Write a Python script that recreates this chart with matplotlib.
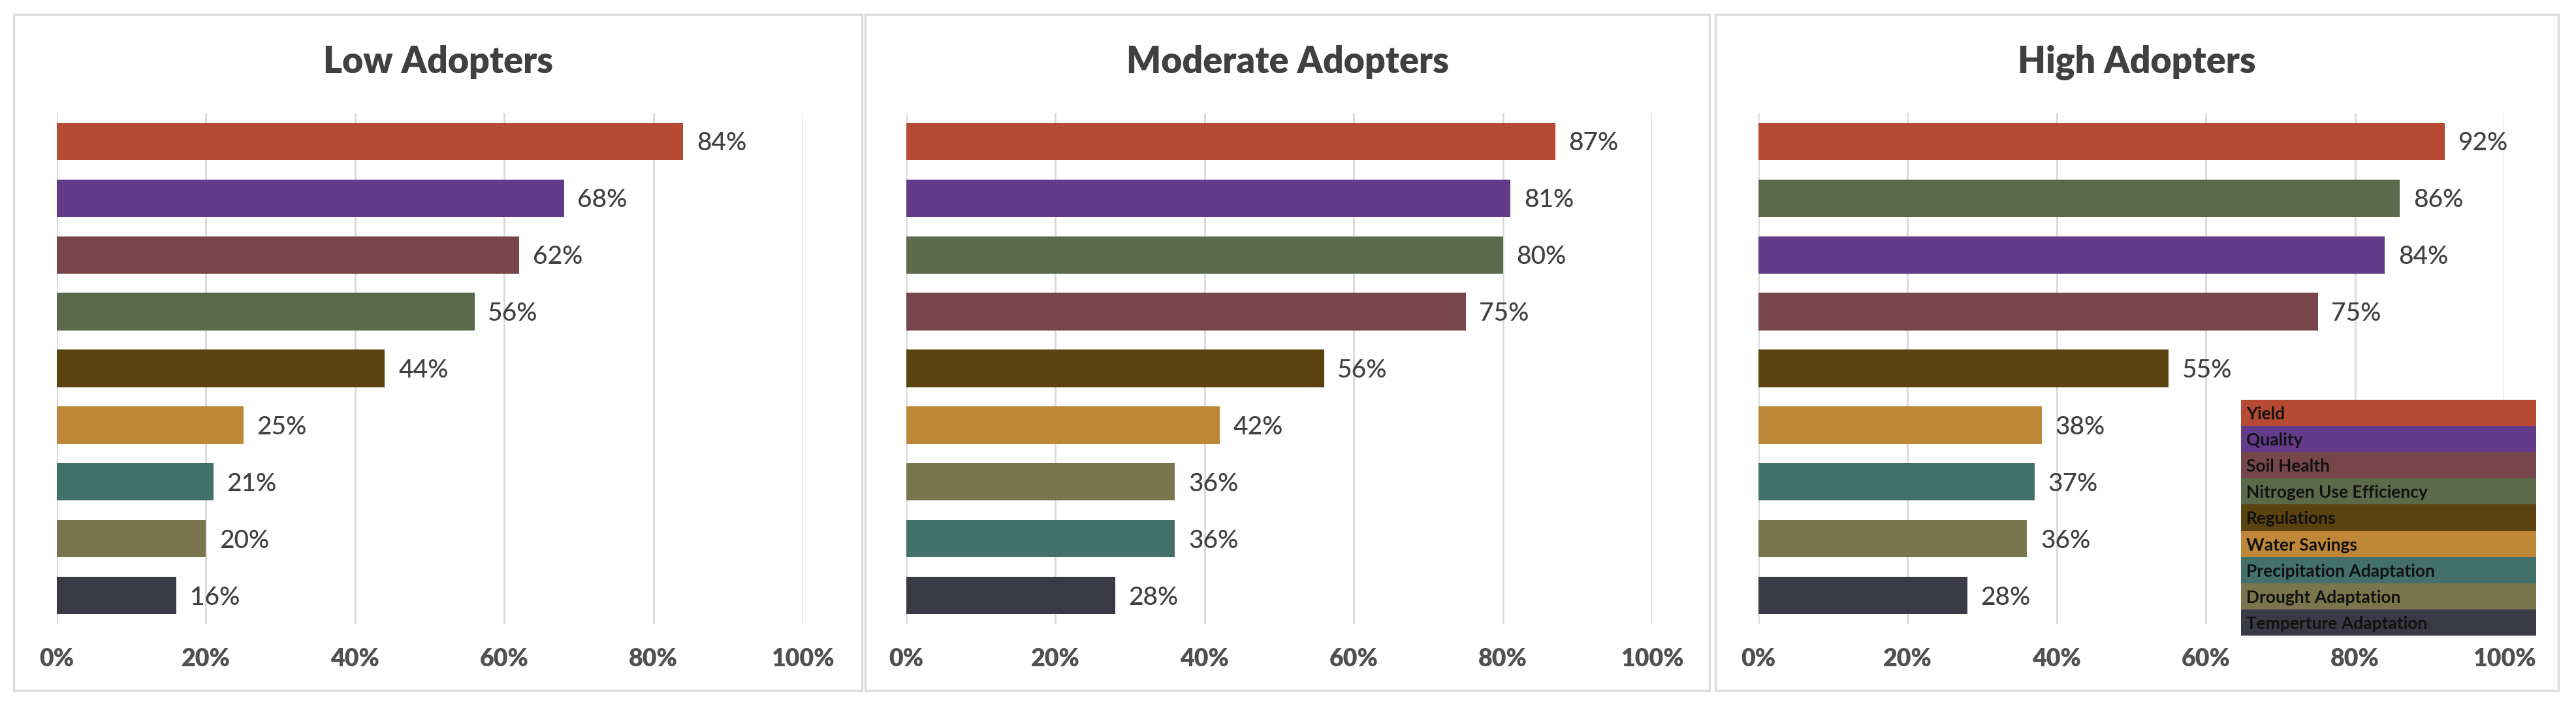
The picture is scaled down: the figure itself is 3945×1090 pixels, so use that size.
import matplotlib.pyplot as plt
from matplotlib.patches import Rectangle

# categories and colours (legend order)
categories = ["Yield", "Quality", "Soil Health", "Nitrogen Use Efficiency", "Regulations",
              "Water Savings", "Precipitation Adaptation", "Drought Adaptation",
              "Temperture Adaptation"]
colors = ["#B64A32", "#643A8B", "#76464A", "#5C6A4C", "#5B4310",
          "#BE8838", "#43706A", "#7A754D", "#3A3946"]

titles = ["Low Adopters", "Moderate Adopters", "High Adopters"]

low_order = ["Yield", "Quality", "Soil Health", "Nitrogen Use Efficiency", "Regulations",
             "Water Savings", "Precipitation Adaptation", "Drought Adaptation",
             "Temperture Adaptation"]
low_values = [84, 68, 62, 56, 44, 25, 21, 20, 16]

moderate_order = ["Yield", "Quality", "Nitrogen Use Efficiency", "Soil Health", "Regulations",
                  "Water Savings", "Drought Adaptation", "Precipitation Adaptation",
                  "Temperture Adaptation"]
moderate_values = [87, 81, 80, 75, 56, 42, 36, 36, 28]

high_order = ["Yield", "Nitrogen Use Efficiency", "Quality", "Soil Health", "Regulations",
              "Water Savings", "Precipitation Adaptation", "Drought Adaptation",
              "Temperture Adaptation"]
high_values = [92, 86, 84, 75, 55, 38, 37, 36, 28]

xticks = [0, 20, 40, 60, 80, 100]

W, H = 3945, 1090
plt.rcParams['font.family'] = ['Lato', 'DejaVu Sans']
fig = plt.figure(figsize=(W / 100, H / 100), dpi=100)

def fx(x):
    return x / W

def fy(y):
    return 1 - y / H

color_of = dict(zip(categories, colors))
panels = [(low_order, low_values), (moderate_order, moderate_values), (high_order, high_values)]
axes_left = [87, 1388, 2693]
axes_w = 1142
panel_box = [(21, 1320), (1325, 2618), (2627, 3918)]

for i, (order, vals) in enumerate(panels):
    # panel frame
    x0, x1 = panel_box[i]
    fig.add_artist(Rectangle((fx(x0), fy(1057)), fx(x1 - x0), (1057 - 22) / H,
                             transform=fig.transFigure, fill=False,
                             edgecolor='#DCDCDC', linewidth=2.5, zorder=0))
    fig.text(fx((x0 + x1) / 2), fy(112), titles[i], ha='center', va='baseline',
             fontsize=40, fontweight='heavy', color='#404040')

    ax = fig.add_axes([fx(axes_left[i]), fy(955), fx(axes_w), 782 / H])
    ypos = range(len(vals))
    ax.barh(ypos, vals, height=0.66, color=[color_of[c] for c in order], zorder=3)
    for y, v in zip(ypos, vals):
        ax.annotate(f"{v}%", (v, y), xytext=(15, 0), textcoords='offset points',
                    va='center_baseline', ha='left', fontsize=28, fontweight='medium',
                    color='#404040')
    ax.set_xlim(0, 100)
    ax.set_ylim(len(vals) - 0.5, -0.5)
    ax.set_xticks(xticks)
    ax.set_xticklabels([f"{t}%" for t in xticks], fontsize=27, fontweight='heavy',
                       color='#505050')
    ax.set_yticks([])
    ax.tick_params(axis='x', length=0, pad=27)
    ax.grid(axis='x', color='#D9D9D9', linewidth=2.0, zorder=0)
    ax.set_axisbelow(True)
    for s in ax.spines.values():
        s.set_visible(False)

# legend block in the last panel
leg_x0, leg_x1, leg_top, row_h = 3432, 3884, 612, 40.1
for k, (cat, col) in enumerate(zip(categories, colors)):
    top = leg_top + k * row_h
    fig.add_artist(Rectangle((fx(leg_x0), fy(top + row_h)), fx(leg_x1 - leg_x0), row_h / H,
                             transform=fig.transFigure, facecolor=col, edgecolor='none',
                             zorder=5))
    fig.text(fx(3440), fy(top + row_h / 2), cat, ha='left', va='center_baseline',
             fontsize=19, fontweight='bold', color='#111111', zorder=6)

fig.savefig("out.png", dpi=100)
